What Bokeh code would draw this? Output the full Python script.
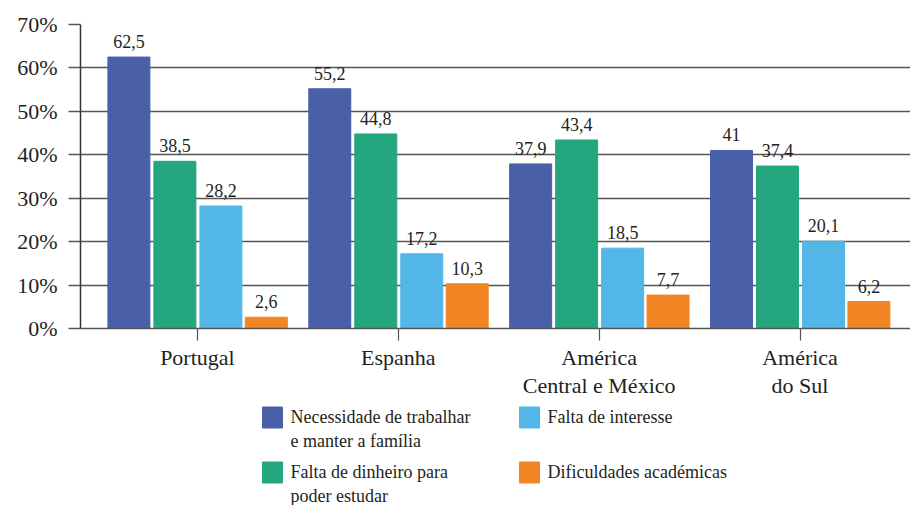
from bokeh.plotting import figure
from bokeh.models import Range1d, FixedTicker, PrintfTickFormatter, ColumnDataSource
from bokeh.layouts import column
from bokeh.core.properties import value
from bokeh.embed import file_html
from bokeh.resources import INLINE

categories = ["Portugal", "Espanha", "América\nCentral e México", "América\ndo Sul"]
series_names = ["Necessidade de trabalhar\ne manter a família",
                "Falta de dinheiro para\npoder estudar",
                "Falta de interesse",
                "Dificuldades académicas"]
necessidade = [62.5, 55.2, 37.9, 41]
dinheiro = [38.5, 44.8, 43.4, 37.4]
interesse = [28.2, 17.2, 18.5, 20.1]
dificuldades = [2.6, 10.3, 7.7, 6.2]
y_ticks = [0, 10, 20, 30, 40, 50, 60, 70]

series = [necessidade, dinheiro, interesse, dificuldades]
colors = ["#4960A9", "#24A67F", "#52B6E6", "#F28524"]
offsets = [-0.341, -0.112, 0.117, 0.343]
bar_w = 0.209
FONT = "'Liberation Serif', serif"

p = figure(width=910, height=403, output_backend="svg", toolbar_location=None,
           x_range=Range1d(-0.582, 3.55), y_range=Range1d(0, 70),
           min_border_left=80, min_border_top=24, min_border_right=0, min_border_bottom=75)
p.outline_line_color = None
p.background_fill_color = "white"

for vals, col, off in zip(series, colors, offsets):
    xs = [i + off for i in range(len(categories))]
    src = ColumnDataSource(dict(x=xs, top=vals,
                                lab=[f"{v:g}".replace(".", ",") for v in vals]))
    p.vbar(x="x", top="top", bottom=0, width=bar_w, color=col, source=src)
    p.text(x="x", y="top", text="lab", source=src, text_align="center",
           text_baseline="bottom", y_offset=-9, text_font=value(FONT),
           text_font_size="18px", text_color="#231F20")

# y axis
p.yaxis.ticker = FixedTicker(ticks=y_ticks)
p.yaxis.formatter = PrintfTickFormatter(format="%d%%")
p.yaxis.major_tick_out = 12
p.yaxis.major_tick_in = 0
p.yaxis.minor_tick_line_color = None
p.yaxis.major_tick_line_color = "#555555"
p.yaxis.major_tick_line_width = 1.5
p.yaxis.axis_line_color = "#333333"
p.yaxis.axis_line_width = 1.5
p.yaxis.major_label_standoff = 11
p.yaxis.major_label_text_font = FONT
p.yaxis.major_label_text_font_size = "22px"
p.yaxis.major_label_text_color = "#231F20"

# x axis
p.xaxis.ticker = FixedTicker(ticks=list(range(len(categories))))
p.xaxis.major_label_overrides = {i: c for i, c in enumerate(categories)}
p.xaxis.major_tick_out = 12
p.xaxis.major_tick_in = 0
p.xaxis.minor_tick_line_color = None
p.xaxis.major_tick_line_color = "#555555"
p.xaxis.major_tick_line_width = 1.2
p.xaxis.axis_line_color = "#555555"
p.xaxis.axis_line_width = 1.5
p.xaxis.major_label_standoff = 4
p.xaxis.major_label_text_font = FONT
p.xaxis.major_label_text_font_size = "22px"
p.xaxis.major_label_text_line_height = 1.15
p.xaxis.major_label_text_color = "#231F20"

p.xgrid.grid_line_color = None
p.ygrid.ticker = FixedTicker(ticks=y_ticks)
p.ygrid.grid_line_color = "#555555"
p.ygrid.grid_line_width = 1.5

# legend panel
lg = figure(width=910, height=102, output_backend="svg", toolbar_location=None,
            x_range=Range1d(80, 910), y_range=Range1d(505, 403),
            x_axis_location=None, y_axis_location=None,
            min_border=0, min_border_left=80, min_border_right=0,
            min_border_top=0, min_border_bottom=0)
lg.outline_line_color = None
lg.xgrid.visible = False
lg.ygrid.visible = False
sq_x = [272, 272, 529, 529]
sq_y = [417, 472, 417, 472]
lg.rect(x=sq_x, y=sq_y, width=20, height=21, color=colors)
lg.text(x=[x + 18 for x in sq_x], y=[y - 11 for y in sq_y], text=series_names,
        text_baseline="top", text_align="left", text_font=value(FONT),
        text_font_size="18px", text_line_height=1.22, text_color="#231F20")

layout = column(p, lg, spacing=0)
open("out.html", "w").write(file_html(layout, INLINE))
